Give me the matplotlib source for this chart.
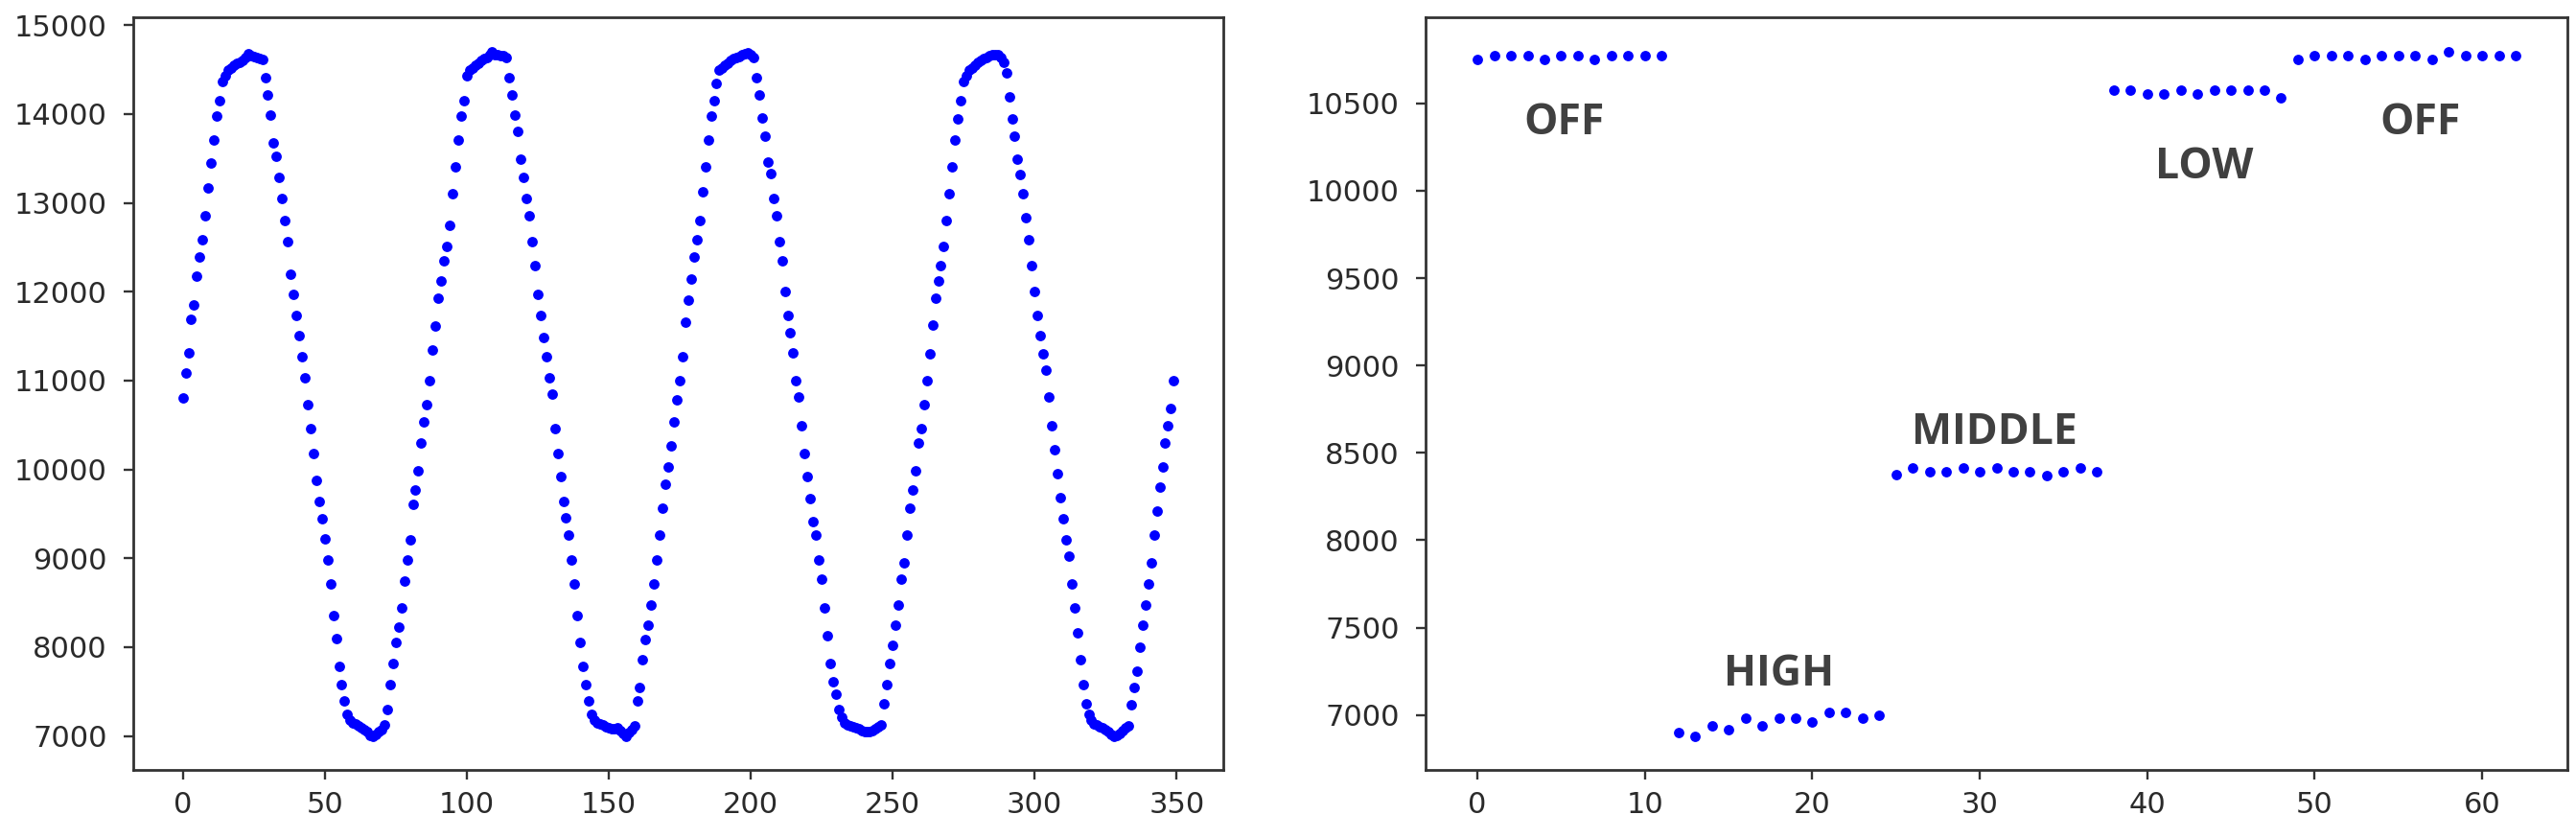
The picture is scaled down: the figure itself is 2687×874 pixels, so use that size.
import numpy as np
import matplotlib.pyplot as plt

#- left panel: sensor reading, one sample per index
rise1 = [10800, 11080, 11310, 11690, 11850, 12170, 12390, 12590, 12860, 13170, 13450, 13710, 13980, 14150, 14370]
top1 = [14430, 14490, 14520, 14550, 14570, 14580, 14600, 14640, 14680, 14660, 14650, 14640, 14620, 14610]
fall1 = [14410, 14220, 13990, 13680, 13520, 13290, 13050, 12800, 12560, 12200, 11970, 11730, 11510, 11270, 11030,
         10730, 10460, 10180, 9880, 9640, 9440, 9220, 8980, 8710, 8360, 8100, 7780, 7580, 7390]
bottom1 = [7240, 7180, 7150, 7130, 7110, 7090, 7070, 7050, 7010, 7000, 7020, 7050, 7070, 7120]
rise2 = [7300, 7580, 7810, 8050, 8230, 8440, 8740, 8980, 9210, 9610, 9770, 9980, 10300, 10540, 10730,
         11000, 11340, 11610, 11930, 12120, 12350, 12510, 12750, 13100, 13400, 13710, 13980, 14150, 14430]
top2 = [14490, 14520, 14550, 14570, 14600, 14620, 14640, 14670, 14700, 14670, 14670, 14660, 14660, 14640]
fall2 = [14410, 14220, 13990, 13800, 13490, 13290, 13050, 12860, 12560, 12290, 11970, 11730, 11480, 11270, 11030,
         10850, 10460, 10180, 9920, 9640, 9460, 9260, 8980, 8710, 8360, 8050, 7780, 7580, 7390]
bottom2 = [7240, 7180, 7150, 7130, 7120, 7100, 7090, 7080, 7080, 7090, 7060, 7030, 7000, 7040, 7070, 7110]
rise3 = [7390, 7540, 7860, 8090, 8250, 8470, 8710, 8980, 9260, 9560, 9830, 10030, 10270, 10540, 10780,
         11000, 11270, 11660, 11900, 12140, 12390, 12590, 12800, 13130, 13400, 13710, 13980, 14150, 14340]
top3 = [14490, 14520, 14550, 14570, 14600, 14620, 14640, 14650, 14670, 14680, 14690, 14670, 14640]
fall3 = [14410, 14220, 13960, 13750, 13460, 13330, 13050, 12860, 12560, 12350, 12000, 11730, 11540, 11310, 11000,
         10810, 10490, 10180, 9920, 9670, 9410, 9260, 8980, 8760, 8440, 8130, 7810, 7610, 7470]
bottom3 = [7300, 7210, 7150, 7120, 7110, 7100, 7090, 7080, 7060, 7050, 7050, 7050, 7060, 7080, 7100, 7120]
rise4 = [7360, 7580, 7810, 8020, 8250, 8470, 8760, 8950, 9260, 9560, 9770, 9980, 10300, 10460, 10730,
         11000, 11300, 11630, 11930, 12120, 12290, 12510, 12800, 13100, 13400, 13710, 13950, 14150, 14370]
top4 = [14430, 14490, 14520, 14550, 14580, 14600, 14620, 14640, 14660, 14670, 14670, 14670, 14640, 14580]
fall4 = [14460, 14190, 13950, 13750, 13490, 13320, 13100, 12830, 12590, 12290, 12000, 11730, 11510, 11300, 11120,
         10810, 10490, 10220, 9950, 9680, 9440, 9210, 9020, 8710, 8440, 8160, 7860, 7580, 7360]
bottom4 = [7240, 7180, 7140, 7120, 7100, 7090, 7070, 7050, 7020, 7000, 7010, 7030, 7060, 7090, 7110]
rise5 = [7350, 7540, 7730, 8000, 8250, 8470, 8710, 8950, 9260, 9530, 9800, 10030, 10300, 10490, 10690, 11000]

#- right panel: readings per fan state
off_a = [10750, 10775, 10775, 10775, 10750, 10775, 10775, 10750, 10775, 10775, 10775, 10775]
high = [6900, 6880, 6940, 6915, 6980, 6940, 6980, 6980, 6960, 7015, 7015, 6980, 7000]
middle = [8375, 8415, 8390, 8390, 8415, 8390, 8415, 8390, 8390, 8370, 8390, 8415, 8390]
low = [10575, 10575, 10555, 10555, 10575, 10555, 10575, 10575, 10575, 10575, 10530]
off_b = [10750, 10775, 10775, 10775, 10750, 10775, 10775, 10775, 10750, 10795, 10775, 10775, 10775, 10775]

etiquetas = ['OFF', 'HIGH', 'MIDDLE', 'LOW', 'OFF']
etiq_x = [5.2, 18.0, 30.9, 43.4, 56.3]
etiq_y = [10322, 7168, 8552, 10072, 10322]

serie_izq = (rise1 + top1 + fall1 + bottom1 + rise2 + top2 + fall2 + bottom2 + rise3 + top3 + fall3
             + bottom3 + rise4 + top4 + fall4 + bottom4 + rise5)
serie_der = off_a + high + middle + low + off_b

#==============================================================================
#- figure
#==============================================================================
fig = plt.figure(figsize=(26.87, 8.74), dpi=100)
ax1 = fig.add_axes([0.0517, 0.081, 0.4232, 0.898])
ax2 = fig.add_axes([0.5534, 0.081, 0.4433, 0.898])

ax1.plot(np.arange(len(serie_izq)), serie_izq, 'o', color='#0000ff', ms=7.8, mew=0)
ax2.plot(np.arange(len(serie_der)), serie_der, 'o', color='#0000ff', ms=7.8, mew=0)

ax1.set_yticks(np.arange(7000, 15001, 1000))
ax1.set_xticks(np.arange(0, 351, 50))
ax2.set_yticks(np.arange(7000, 10501, 500))
ax2.set_xticks(np.arange(0, 61, 10))

for t, x, y in zip(etiquetas, etiq_x, etiq_y):
    ax2.text(x, y, t, ha='center', va='baseline', fontsize=32, fontweight='bold',
             family='Open Sans', color='#404040')

for ax in (ax1, ax2):
    for s in ax.spines.values():
        s.set_color('#333333')
        s.set_linewidth(2.0)
    ax.tick_params(labelsize=22, length=7.5, width=1.7, color='#333333', labelcolor='#2a2a2a')
    ax.tick_params(axis='y', pad=12)
    ax.tick_params(axis='x', pad=8)

fig.savefig('out.png', dpi=100)
